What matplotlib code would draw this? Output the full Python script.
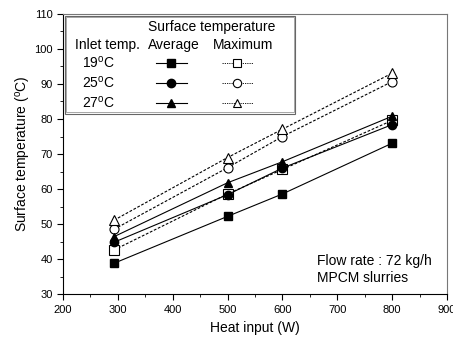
import matplotlib.pyplot as plt
from matplotlib.patches import Rectangle
from matplotlib.lines import Line2D

plt.rcParams['font.family'] = ['Liberation Sans', 'DejaVu Sans']
plt.rcParams['mathtext.fontset'] = 'custom'
plt.rcParams['mathtext.rm'] = 'Liberation Sans'

heat = [293, 500, 600, 800]
avg19 = [38.8, 52.2, 58.6, 73.1]
max19 = [42.6, 58.6, 65.6, 79.6]
avg25 = [44.8, 58.4, 66.0, 78.4]
max25 = [48.5, 66.1, 75.0, 90.7]
avg27 = [46.4, 61.8, 67.8, 80.8]
max27 = [51.1, 69.0, 77.1, 93.1]
inlet = ['19$^{\\rm o}$C', '25$^{\\rm o}$C', '27$^{\\rm o}$C']

fig = plt.figure(figsize=(4.53, 3.40), dpi=100)
ax = fig.add_axes([0.139, 0.135, 0.848, 0.824])

series = [(avg19, max19, 's'), (avg25, max25, 'o'), (avg27, max27, '^')]
for a, m, mk in series:
    ax.plot(heat, a, color='black', lw=0.8, marker=mk, ms=6, mfc='black', mec='black')
    ax.plot(heat, m, color='black', lw=0.8, ls=(0, (2.5, 1.5)), marker=mk, ms=6.5,
            mfc='white', mec='black', mew=0.8)

ax.set_xlim(200, 900)
ax.set_ylim(30, 110)
ax.set_xticks(range(200, 901, 100))
ax.set_xticks(range(250, 900, 100), minor=True)
ax.set_yticks(range(30, 111, 10))
ax.set_yticks(range(35, 110, 10), minor=True)
ax.tick_params(which='both', direction='out', top=False, right=False, labelsize=8)
ax.tick_params(which='major', length=4)
ax.tick_params(which='minor', length=2.5)
ax.spines['top'].set_color('#777777')
ax.spines['right'].set_color('#777777')
ax.set_xlabel('Heat input (W)', fontsize=10, labelpad=5)
ax.set_ylabel('Surface temperature ($^{\\rm o}$C)', fontsize=10)
ax.yaxis.set_label_coords(-0.078, 0.5)

ax.text(0.66, 0.118, 'Flow rate : 72 kg/h', transform=ax.transAxes, fontsize=10, va='center')
ax.text(0.66, 0.057, 'MPCM slurries', transform=ax.transAxes, fontsize=10, va='center')

# custom legend table
tr = ax.transAxes
def fx(px):
    return (px - 63) / 384.0
def fy(py):
    return (294 - py) / 280.0

ax.add_patch(Rectangle((fx(65), fy(114)), fx(295) - fx(65), fy(16) - fy(114),
                       transform=tr, fill=False, ec='#666666', lw=0.8))
ax.add_patch(Rectangle((fx(66.5), fy(112.5)), fx(293.5) - fx(66.5), fy(17.5) - fy(112.5),
                       transform=tr, fill=False, ec='#999999', lw=0.6))
ax.text(fx(212), fy(27), 'Surface temperature', transform=tr, ha='center', va='center', fontsize=10)
ax.text(fx(107), fy(45), 'Inlet temp.', transform=tr, ha='center', va='center', fontsize=10)
ax.text(fx(174), fy(45), 'Average', transform=tr, ha='center', va='center', fontsize=10)
ax.text(fx(243), fy(45), 'Maximum', transform=tr, ha='center', va='center', fontsize=10)
rows = [63, 83, 103]
for lab, (a, m, mk), py in zip(inlet, series, rows):
    ax.text(fx(98), fy(py), lab, transform=tr, ha='center', va='center', fontsize=10)
    ax.add_line(Line2D([fx(156), fx(187)], [fy(py), fy(py)], transform=tr, color='black', lw=0.8))
    ax.add_line(Line2D([fx(171)], [fy(py)], transform=tr, marker=mk, ms=6, color='black'))
    ax.add_line(Line2D([fx(222), fx(253)], [fy(py), fy(py)], transform=tr, color='black', lw=0.6,
                       ls=(0, (1.5, 1.2))))
    ax.add_line(Line2D([fx(237)], [fy(py)], transform=tr, marker=mk, ms=6, mfc='white',
                       mec='black', mew=0.8, color='black'))

fig.savefig('out.png', dpi=100)
